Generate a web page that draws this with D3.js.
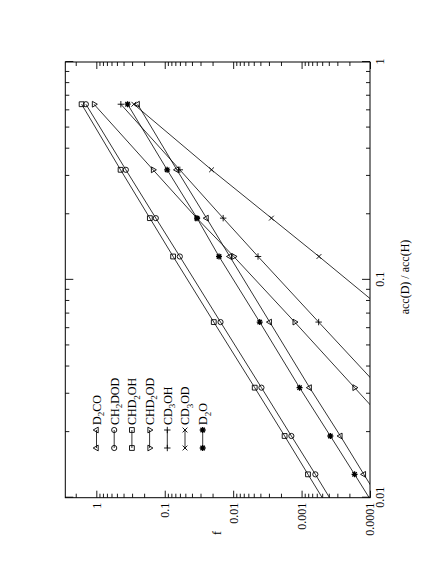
<!DOCTYPE html>
<html><head><meta charset="utf-8">
<script src="https://cdn.jsdelivr.net/npm/d3@7"></script>
<style>
body{margin:0;background:#fff}
text{font-family:"Liberation Serif","Times New Roman",serif;fill:#000}
</style>
</head><body>
<svg id="c" width="436" height="564"></svg>
<script>
// ---- data ----
const accRatio = [0.64, 0.32, 0.192, 0.128, 0.064, 0.032, 0.0192, 0.0128, 0.0064];
const fD2CO   = [0.249, 0.0666, 0.0245, 0.0112, 0.00292, 0.000762, 0.000271, 0.000123, 0.0000313];
const fCH2DOD = [1.42, 0.370, 0.135, 0.0602, 0.0153, 0.00386, 0.00141, 0.000629, 0.000164];
const fCHD2OH = [1.64, 0.442, 0.165, 0.0754, 0.0192, 0.00484, 0.00177, 0.000806, 0.000210];
const fCHD2OD = [1.08, 0.148, 0.0340, 0.0098, 0.00126, 0.000168, 0.0000382];
const fCD3OH  = [0.438, 0.0602, 0.0140, 0.00433, 0.000563, 0.0000724];
const fCD3OD  = [0.283, 0.0207, 0.00276, 0.000557, 0.0000382];
const fD2O    = [0.349, 0.0922, 0.0337, 0.0161, 0.00409, 0.00107, 0.000380, 0.000168, 0.0000423];

const seriesNames = ["D_2CO", "CH_2DOD", "CHD_2OH", "CHD_2OD", "CD_3OH", "CD_3OD", "D_2O"];
const seriesValues = [fD2CO, fCH2DOD, fCHD2OH, fCHD2OD, fCD3OH, fCD3OD, fD2O];
const seriesSymbols = ["triUp", "circle", "square", "triDown", "plus", "cross", "star"];

const fTicks = [1, 0.1, 0.01, 0.001, 0.0001];
const fTickLabels = ["1", "0.1", "0.01", "0.001", "0.0001"];
const accTicks = [0.01, 0.1, 1];
const accTickLabels = ["0.01", "0.1", "1"];
const xTitle = "acc(D) / acc(H)";
const yTitle = "f";

// ---- layout (original, unrotated orientation) ----
const L = 66.3, R = 502, T = 65.3, B = 370;
const x = d3.scaleLog().domain([0.01, 1]).range([L, R]);
const y = d3.scaleLog().domain([0.0001, 2.84]).range([B, T]);

const svg = d3.select("#c");
const g = svg.append("g").attr("transform", "translate(0,564) rotate(-90)");

g.append("defs").append("clipPath").attr("id", "clip")
  .append("rect").attr("x", L).attr("y", T).attr("width", R - L).attr("height", B - T);

// minor tick values
const fMinor = [];
for (let d = -4; d <= 0; d++) for (let k = 2; k <= 9; k++) {
  const v = k * Math.pow(10, d);
  if (v <= 2.84) fMinor.push(v);
}
const accMinor = [];
for (let d = -2; d <= -1; d++) for (let k = 2; k <= 9; k++) accMinor.push(k * Math.pow(10, d));

function styleAxis(sel) {
  sel.select(".domain").remove();
  sel.selectAll(".tick line").attr("stroke", "#000").attr("stroke-width", 0.9);
  sel.selectAll(".tick text").attr("font-size", 12).attr("font-family", '"Liberation Serif","Times New Roman",serif').attr("fill", "#000");
}

// x axis bottom (labels) + top mirror
g.append("g").attr("transform", `translate(0,${B})`)
  .call(d3.axisBottom(x).tickValues(accTicks).tickSize(-8).tickPadding(5)
    .tickFormat((d, i) => accTickLabels[i])).call(styleAxis);
g.append("g").attr("transform", `translate(0,${B})`)
  .call(d3.axisBottom(x).tickValues(accMinor).tickSize(-4).tickFormat("")).call(styleAxis);
g.append("g").attr("transform", `translate(0,${T})`)
  .call(d3.axisTop(x).tickValues(accTicks).tickSize(-8).tickFormat("")).call(styleAxis);
g.append("g").attr("transform", `translate(0,${T})`)
  .call(d3.axisTop(x).tickValues(accMinor).tickSize(-4).tickFormat("")).call(styleAxis);

// y axis left (labels) + right mirror
g.append("g").attr("transform", `translate(${L},0)`)
  .call(d3.axisLeft(y).tickValues(fTicks).tickSize(-7).tickPadding(5)
    .tickFormat((d, i) => fTickLabels[i])).call(styleAxis);
g.append("g").attr("transform", `translate(${L},0)`)
  .call(d3.axisLeft(y).tickValues(fMinor).tickSize(-4).tickFormat("")).call(styleAxis);
g.append("g").attr("transform", `translate(${R},0)`)
  .call(d3.axisRight(y).tickValues(fTicks).tickSize(-7).tickFormat("")).call(styleAxis);
g.append("g").attr("transform", `translate(${R},0)`)
  .call(d3.axisRight(y).tickValues(fMinor).tickSize(-4).tickFormat("")).call(styleAxis);

// frame
g.append("rect").attr("x", L).attr("y", T).attr("width", R - L).attr("height", B - T)
  .attr("fill", "none").attr("stroke", "#000").attr("stroke-width", 1);

// titles
g.append("text").attr("x", 287).attr("y", 409).attr("text-anchor", "middle")
  .attr("font-size", 12).text(xTitle);
g.append("text").attr("x", 31).attr("y", 221).attr("text-anchor", "middle")
  .attr("font-size", 12).text(yTitle);

// symbols
function symPath(t) {
  switch (t) {
    case "triUp": return "M0,-3.3L2.9,1.7L-2.9,1.7Z";
    case "triDown": return "M0,3.3L2.9,-1.7L-2.9,-1.7Z";
    case "square": return "M-2.4,-2.4h4.8v4.8h-4.8Z";
    case "circle": return "M2.6,0A2.6,2.6 0 1 1 -2.6,0A2.6,2.6 0 1 1 2.6,0Z";
    case "plus": return "M-3.2,0H3.2M0,-3.2V3.2";
    case "cross": return "M-2.4,-2.4L2.4,2.4M-2.4,2.4L2.4,-2.4";
    case "star": return "M-3,0H3M0,-3V3M-2.2,-2.2L2.2,2.2M-2.2,2.2L2.2,-2.2";
  }
}
function drawSym(sel, t, cx, cy) {
  sel.append("path").attr("d", symPath(t)).attr("transform", `translate(${cx},${cy})`)
    .attr("fill", "none").attr("stroke", "#000")
    .attr("stroke-width", t === "star" ? 1.3 : 0.9);
}

const line = d3.line().x(d => x(d[0])).y(d => y(d[1]));
const plot = g.append("g").attr("clip-path", "url(#clip)");
seriesValues.forEach((vals, si) => {
  const pts = vals.map((v, i) => [accRatio[i], v]);
  plot.append("path").attr("d", line(pts)).attr("fill", "none")
    .attr("stroke", "#000").attr("stroke-width", 0.8);
  pts.forEach(p => {
    if (p[0] >= 0.01 && p[0] <= 1 && p[1] >= 0.0001 && p[1] <= 2.84)
      drawSym(plot, seriesSymbols[si], x(p[0]), y(p[1]));
  });
});

// legend
const lg = g.append("g");
seriesNames.forEach((name, i) => {
  const cy = 96.5 + i * 17.7;
  lg.append("line").attr("x1", 116).attr("x2", 134).attr("y1", cy).attr("y2", cy)
    .attr("stroke", "#000").attr("stroke-width", 0.8);
  drawSym(lg, seriesSymbols[i], 116, cy);
  drawSym(lg, seriesSymbols[i], 134, cy);
  const t = lg.append("text").attr("x", 139).attr("y", cy + 4.3).attr("font-size", 12);
  const parts = name.split("_");
  t.append("tspan").text(parts[0]);
  for (let k = 1; k < parts.length; k++) {
    t.append("tspan").attr("font-size", 9).attr("dy", 3.5).text(parts[k][0]);
    t.append("tspan").attr("dy", -3.5).text(parts[k].slice(1));
  }
});
</script>
</body></html>
